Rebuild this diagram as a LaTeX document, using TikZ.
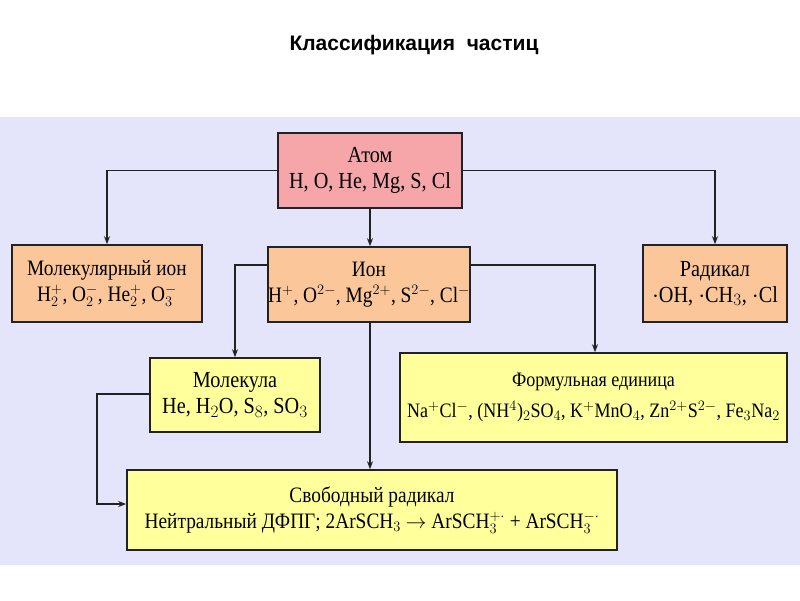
\documentclass[tikz,border=0pt]{standalone}
\usepackage{fontspec}
\setmainfont{Liberation Serif}[FakeStretch=0.88]
\newfontfamily\titlefont{Liberation Sans}
\usetikzlibrary{arrows.meta}
\definecolor{bgc}{HTML}{E4E4FA}
\definecolor{pinkc}{HTML}{F6A6A8}
\definecolor{orc}{HTML}{FBC79A}
\definecolor{yelc}{HTML}{FFFF9C}
\definecolor{linec}{HTML}{222222}
\tikzset{
 box/.style={draw=linec,line width=1.6pt,align=center,inner sep=0pt,font=\fontsize{23}{26}\selectfont},
 conn/.style={draw=linec,line width=1.3pt,-{Stealth[length=8pt,width=6pt]}}
}
\begin{document}
\begin{tikzpicture}[x=1pt,y=-1pt]
\useasboundingbox (0,0) rectangle (800,600);
\fill[white] (0,0) rectangle (800,600);
\fill[bgc] (0,117) rectangle (800,565);
\node[font=\titlefont\bfseries\fontsize{21}{24}\selectfont] (title) at (414,45) {Классификация\ \ частиц};
\node[box,fill=pinkc,minimum width=184pt,minimum height=75pt] (atom) at (370,170.5) {Атом\\H, O, He, Mg, S, Cl};
\node[box,fill=orc,minimum width=190pt,minimum height=77pt,font=\fontsize{22}{26}\selectfont] (mion) at (107,283.5) {Молекулярный ион\\H$_2^+$, O$_2^-$,\ He$_2^+$,\ O$_3^-$};
\node[box,fill=orc,minimum width=202pt,minimum height=75pt,font=\fontsize{22}{26}\selectfont] (ion) at (369,284.5) {Ион\\H$^+$, O$^{2-}$, Mg$^{2+}$, S$^{2-}$, Cl$^-$};
\node[box,fill=orc,minimum width=144pt,minimum height=77pt] (rad) at (715,283.5) {Радикал\\$\cdot$OH, $\cdot$CH$_3$, $\cdot$Cl};
\node[box,fill=yelc,minimum width=170pt,minimum height=74pt] (mol) at (235,395) {Молекула\\He,\ H$_2$O,\ S$_8$,\ SO$_3$};
\node[box,fill=yelc,minimum width=387pt,minimum height=89pt,font=\fontsize{20.5}{31}\selectfont] (fu) at (593.5,397.5) {Формульная единица\\Na$^+$Cl$^-$, (NH$^4$)$_2$SO$_4$, K$^+$MnO$_4$, Zn$^{2+}$S$^{2-}$, Fe$_3$Na$_2$};
\node[box,fill=yelc,minimum width=490pt,minimum height=80pt,font=\fontsize{22}{26}\selectfont] (fr) at (372,510) {Свободный радикал\\Нейтральный ДФПГ; 2ArSCH$_3$ $\rightarrow$ ArSCH$_3^{+\cdot}$ + ArSCH$_3^{-\cdot}$};
\draw[conn] (atom.west) -| (mion.north);
\draw[conn] (atom.south) -- (atom.south |- ion.north);
\draw[conn] (atom.east) -| (rad.north);
\draw[conn] (ion.west |- 0,265) -| (mol.north);
\draw[conn] (ion.east |- 0,265) -| (fu.north -| 595,0);
\draw[conn] (ion.south -| 370,0) -- (370,0 |- fr.north);
\coordinate (c1) at (97,394);
\coordinate (c2) at (97,504);
\draw[conn] (mol.west |- c1) -- (c1) -- (c2) -- (fr.west |- c2);
\end{tikzpicture}
\end{document}
